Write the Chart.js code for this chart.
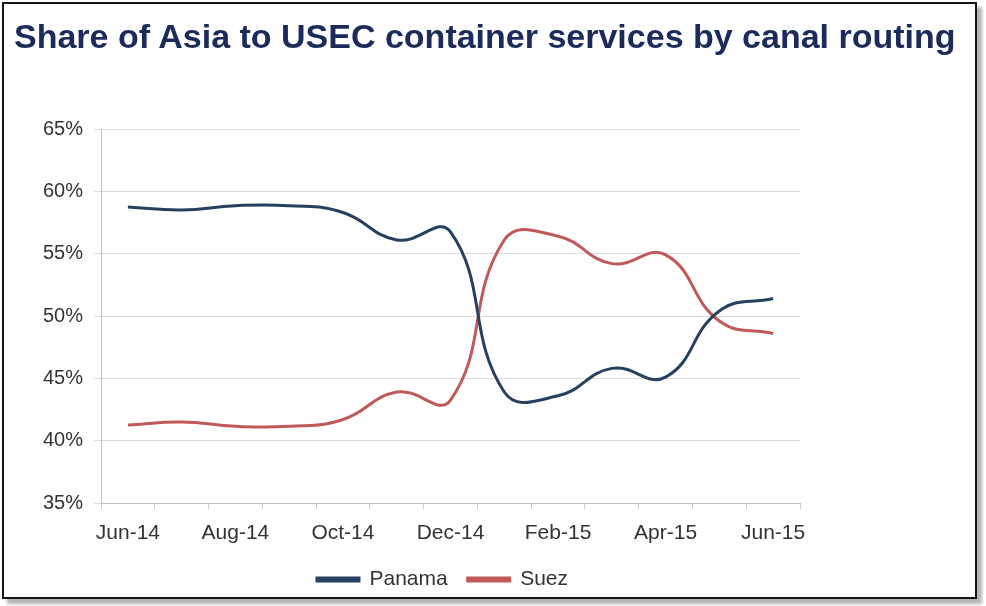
<!DOCTYPE html>
<html>
<head>
<meta charset="utf-8">
<title>Canal routing share</title>
<script src="https://cdn.jsdelivr.net/npm/chart.js@4.4.1/dist/chart.umd.min.js"></script>
<style>
    body {
        margin: 0;
        background: #fff;
    }
    .frame {
        position: absolute;
        left: 2px;
        top: 2px;
        width: 971px;
        height: 593px;
        border: 2px solid #151515;
        background: #fff;
        box-shadow: 5px 5px 3px #b5b5b5;
    }
    .frame canvas {
        display: block;
    }
    .chart-title {
        position: absolute;
        left: 10px;
        top: 12px;
        margin: 0;
        font: bold 34px/40px 'Liberation Sans', Arial, sans-serif;
        color: #1c2a5c;
        white-space: nowrap;
    }
</style>
</head>
<body>
<div class="frame">
    <canvas id="routingChart" width="971" height="593"></canvas>
    <h1 class="chart-title">Share of Asia to USEC container services by canal routing</h1>
</div>

<script>
// Monthly share of Asia - US East Coast services, in percent
const months = ['Jun-14', 'Jul-14', 'Aug-14', 'Sep-14', 'Oct-14', 'Nov-14', 'Dec-14',
                'Jan-15', 'Feb-15', 'Mar-15', 'Apr-15', 'May-15', 'Jun-15'];
const panamaShare = [58.75, 58.5, 58.85, 58.85, 58.3, 56.1, 56.75, 43.9, 43.6, 45.8, 45.1, 50.4, 51.4];
const suezShare = [41.25, 41.5, 41.15, 41.15, 41.7, 43.9, 43.25, 56.1, 56.4, 54.2, 54.9, 49.6, 48.6];
const yTicks = { min: 35, max: 65, step: 5 };

const PANAMA_COLOR = '#27405f';
const SUEZ_COLOR = '#c0595a';

Chart.defaults.font.family = "'Liberation Sans', Arial, sans-serif";
Chart.defaults.color = '#404040';

// legend sits a little left of the plot centre and a touch lower
const legendNudge = {
    id: 'legendNudge',
    afterLayout(chart) {
        const legend = chart.legend;
        legend.left -= 8;
        legend.right -= 8;
        legend.top += 3;
        legend.bottom += 3;
    }
};

function createRoutingChart() {
    const ctx = document.getElementById('routingChart');
    if (!ctx) return;

    new Chart(ctx.getContext('2d'), {
        type: 'line',
        data: {
            labels: months,
            datasets: [
                {
                    label: 'Panama',
                    data: panamaShare,
                    borderColor: PANAMA_COLOR,
                    backgroundColor: PANAMA_COLOR,
                    borderWidth: 3,
                    tension: 0.45,
                    pointRadius: 0,
                    fill: false
                },
                {
                    label: 'Suez',
                    data: suezShare,
                    borderColor: SUEZ_COLOR,
                    backgroundColor: SUEZ_COLOR,
                    borderWidth: 3,
                    tension: 0.45,
                    pointRadius: 0,
                    fill: false
                }
            ]
        },
        options: {
            responsive: false,
            animation: false,
            layout: {
                // top space is taken by the heading above the plot
                padding: { left: 10, right: 175, top: 125, bottom: 0 }
            },
            plugins: {
                legend: {
                    position: 'bottom',
                    fullSize: false,
                    labels: {
                        boxWidth: 42,
                        boxHeight: 3,
                        padding: 20,
                        color: '#333',
                        font: { size: 21 }
                    }
                },
                tooltip: { enabled: false }
            },
            scales: {
                x: {
                    offset: true,
                    afterFit: function(scale) {
                        scale.height = 43;
                    },
                    grid: {
                        offset: true,
                        drawOnChartArea: false,
                        drawTicks: true,
                        tickLength: 6,
                        color: '#c8c8c8'
                    },
                    border: { color: '#bfbfbf' },
                    ticks: {
                        autoSkip: false,
                        maxRotation: 0,
                        padding: 12,
                        font: { size: 21 },
                        color: '#333',
                        callback: function(value, index) {
                            return index % 2 === 0 ? months[index] : '';
                        }
                    }
                },
                y: {
                    min: yTicks.min,
                    max: yTicks.max,
                    afterFit: function(scale) {
                        scale.width = 87;
                    },
                    grid: {
                        color: '#dcdcdc',
                        tickLength: 7
                    },
                    border: { color: '#bfbfbf' },
                    ticks: {
                        stepSize: yTicks.step,
                        padding: 11,
                        font: { size: 20 },
                        color: '#333',
                        callback: function(value) {
                            return value + '%';
                        }
                    }
                }
            }
        },
        plugins: [legendNudge]
    });
}

createRoutingChart();
</script>
</body>
</html>
